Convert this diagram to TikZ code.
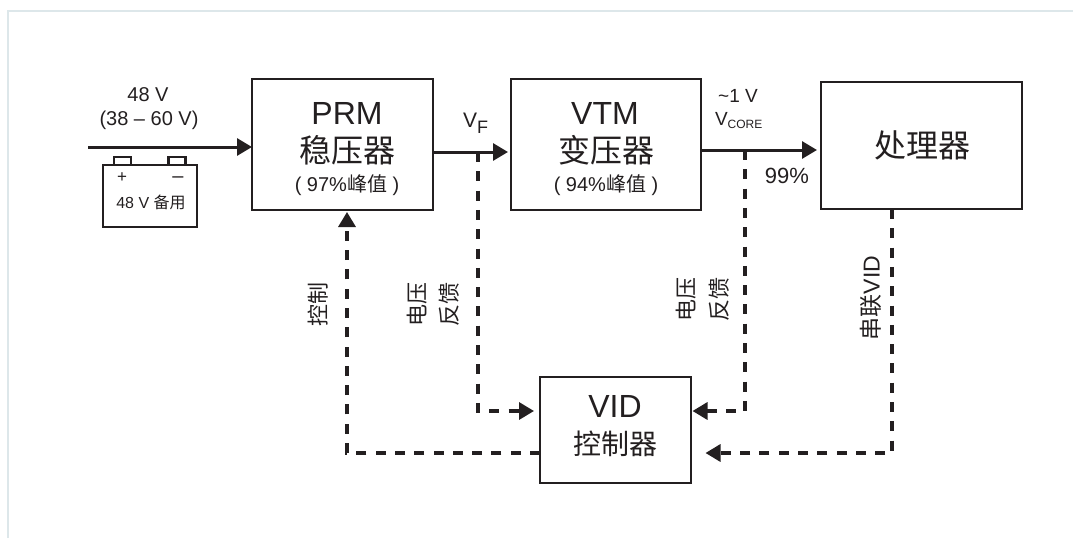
\documentclass[tikz,border=0pt]{standalone}
\usepackage{fontspec}
\setmainfont{Liberation Sans}
\newfontfamily\cjkf{Noto Sans CJK SC}
\usetikzlibrary{arrows.meta}
\newcommand\szf[1]{\fontsize{#1}{#1}\selectfont}
\definecolor{ink}{HTML}{231F20}
\definecolor{frameline}{HTML}{DDE7EA}
\tikzset{
  box/.style={draw=ink,line width=2.8pt,fill=white,inner sep=0pt,outer sep=0pt},
  txt/.style={text=ink,inner sep=0pt,outer sep=0pt,anchor=center},
  flow/.style={draw=ink,line width=3pt,-{Triangle[length=15pt,width=17pt]}},
  dashflow/.style={draw=ink,line width=3.3pt,dash pattern=on 10pt off 9.3pt,-{Triangle[length=15pt,width=17pt]}}
}
\begin{document}
\begin{tikzpicture}[x=1pt,y=-1pt]
\useasboundingbox (0,0) rectangle (1073,538);
\draw[frameline,line width=2pt] (8,538) -- (8,11) -- (1073,11);
% boxes
\node[box,minimum width=181pt,minimum height=131pt] (prm) at (342.5,144.5) {};
\node[box,minimum width=190pt,minimum height=131pt] (vtm) at (606,144.5) {};
\node[box,minimum width=201pt,minimum height=127pt] (cpu) at (921.5,145.5) {};
\node[box,minimum width=151pt,minimum height=106pt] (vid) at (615.5,430) {};
% battery
\node[draw=ink,line width=2.6pt,minimum width=94pt,minimum height=62pt,inner sep=0pt] (bat) at (150,196) {};
\node[draw=ink,line width=2.4pt,minimum width=17pt,minimum height=8pt,inner sep=0pt] (tp) at (122.5,161) {};
\node[draw=ink,line width=2.4pt,minimum width=17pt,minimum height=8pt,inner sep=0pt] (tm) at (177,161) {};
\node[txt] (plus) at (122,178) {\szf{17}+};
\node[txt] (minus) at (178,180) {\szf{20}–};
\node[txt] (batl) at (151,202) {\szf{16}48 V {\cjkf 备用}};
% box texts
\node[txt] (t1) at (347,113) {\szf{32}PRM};
\node[txt] (t2) at (347,150) {\szf{32}\cjkf 稳压器};
\node[txt] (t3) at (347,185) {\szf{20}( 97\%{\cjkf 峰值} )};
\node[txt] (t4) at (605,113) {\szf{32}VTM};
\node[txt] (t5) at (606,150) {\szf{32}\cjkf 变压器};
\node[txt] (t6) at (606,185) {\szf{20}( 94\%{\cjkf 峰值} )};
\node[txt] (t7) at (922,145) {\szf{32}\cjkf 处理器};
\node[txt] (t8) at (615,406) {\szf{32}VID};
\node[txt] (t9) at (615,444) {\szf{28}\cjkf 控制器};
% labels
\node[txt] (l1) at (148,95) {\szf{20}48 V};
\node[txt] (l2) at (149,120) {\szf{20}(38 – 60 V)};
\node[txt,anchor=west] (l3) at (463,123) {\szf{21}V\raisebox{-6pt}{\szf{18}F}};
\node[txt] (l4) at (738,96) {\szf{19}\textasciitilde 1 V};
\node[txt,anchor=west] (l5) at (715,121) {\szf{19}V\raisebox{-3pt}{\szf{12}CORE}};
\node[txt] (l6) at (787,176) {\szf{22}99\%};
\node[txt,rotate=90] (r1) at (318,304) {\szf{22}\cjkf 控制};
\node[txt,rotate=90] (r2) at (417,304) {\szf{22}\cjkf 电压};
\node[txt,rotate=90] (r3) at (449,304) {\szf{22}\cjkf 反馈};
\node[txt,rotate=90] (r4) at (686,299) {\szf{22}\cjkf 电压};
\node[txt,rotate=90] (r5) at (719,299) {\szf{22}\cjkf 反馈};
\node[txt,rotate=90] (r6) at (871,298) {\szf{23}{\cjkf 串联}VID};
% connector points
\coordinate (inp) at (88,147);
\coordinate (vfj) at (478,152);
\coordinate (vfk) at (478,411);
\coordinate (vcj) at (745,150);
\coordinate (vck) at (745,411);
\coordinate (sj) at (892,209);
\coordinate (sk) at (892,453);
\coordinate (ck) at (347,453);
% solid flows
\draw[flow] (inp) -- (inp -| prm.west);
\draw[flow,shorten >=3pt] (vfj -| prm.east) -- (vfj -| vtm.west);
\draw[flow,shorten >=4pt] (vcj -| vtm.east) -- (vcj -| cpu.west);
% dashed flows
\draw[dashflow,shorten >=6pt] (vfj) -- (vfk) -- (vfk -| vid.west);
\draw[dashflow,shorten >=1.5pt] (vcj) -- (vck) -- (vck -| vid.east);
\draw[dashflow,shorten >=14.5pt] (sj) -- (sk) -- (sk -| vid.east);
\draw[dashflow,shorten >=2pt] (ck -| vid.west) -- (ck) -- (ck |- prm.south);
\end{tikzpicture}
\end{document}
